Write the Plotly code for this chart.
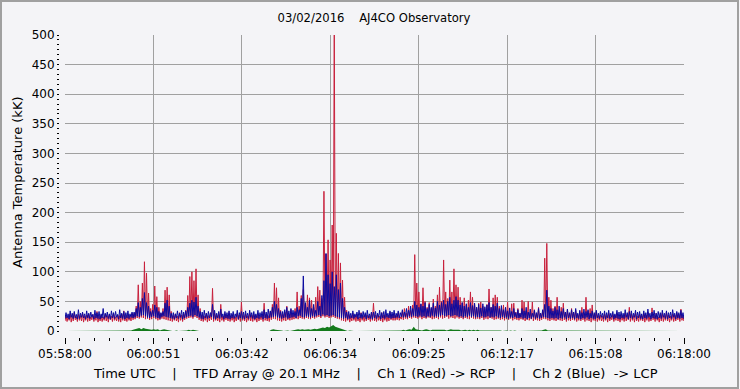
import plotly.graph_objects as go

# ---------------- data ----------------
sample_step_s = 4  # seconds between samples, starting 05:58:00

tick_labels = ["05:58:00", "06:00:51", "06:03:42", "06:06:34",
               "06:09:25", "06:12:17", "06:15:08", "06:18:00"]

# Ch 1 (RCP) upper envelope per sample, kK
ch1_red_high = [
    27,25,29,26,31,24,28,26,30,25,
    27,29,24,28,26,33,25,27,24,29,
    26,28,25,30,24,27,26,29,34,25,
    28,24,30,
    30,42,78,50,81,117,98,64,38,
    45,76,58,40,30,
    38,69,74,61,33,
    26,29,25,31,27,28,
    35,60,92,100,85,105,61,38,
    27,25,30,26,28,
    72,
    30,26,28,45,25,29,27,31,26,28,24,30,27,
    49,
    26,29,25,31,27,28,26,30,25,29,
    47,
    28,26,33,
    45,81,73,56,35,
    28,32,42,28,36,30,
    38,66,42,60,70,45,61,56,52,40,57,75,69,55,236,130,154,120,179,520,165,131,115,86,57,35,
    28,25,30,27,29,24,31,26,28,27,25,30,
    47,
    27,29,25,31,27,28,26,32,28,30,
    26,31,24,33,38,30,42,35,44,129,
    81,66,45,73,50,40,48,38,54,42,
    61,74,50,120,66,55,86,66,105,78,
    74,57,48,56,44,52,66,57,45,40,
    47,49,42,38,45,71,40,56,61,57,
    42,38,44,35,49,33,46,47,32,38,
    30,52,49,34,50,31,49,36,28,40,
    30,
    34,123,148,57,52,38,42,57,35,40,
    47,32,36,29,38,31,35,28,33,40,
    30,57,34,38,44,28,32,26,
    27,25,29,26,30,24,28,27,31,25,
    28,26,30,27,40,29,26,31,25,28,
    26,30,27,32,25,39,27,30,24,28,
    30,26,32,27,25,29,27,31,28,37,
    26,29,
]

# Ch 1 (RCP) lower envelope per sample, kK
ch1_red_low = [
    17,16,18,15,17,19,16,18,17,15,
    18,16,17,19,16,18,15,17,16,18,
    17,15,19,16,18,17,16,15,18,17,
    16,18,17,19,20,22,21,23,22,20,
    21,19,20,22,20,18,19,21,20,19,
    18,17,16,18,17,15,18,16,19,21,
    22,23,21,24,22,19,17,16,18,15,
    17,19,16,18,17,15,18,16,19,17,
    16,18,15,17,19,16,18,17,15,18,
    17,16,18,15,17,19,16,18,17,16,
    19,21,20,18,17,16,18,17,19,18,
    19,20,21,20,22,21,20,22,21,20,
    22,21,23,24,22,25,23,24,22,23,
    24,22,21,20,18,17,16,18,15,17,
    18,16,17,15,18,16,17,19,16,18,
    17,16,18,17,15,18,16,17,19,18,
    18,19,18,20,19,21,20,22,21,23,
    22,21,23,20,22,21,23,22,20,21,
    22,20,23,21,22,24,21,23,22,21,
    23,21,22,20,22,21,20,22,21,20,
    21,20,22,19,21,20,22,21,19,20,
    21,19,20,18,20,19,21,18,20,19,
    18,20,19,17,19,18,20,17,19,18,
    17,19,21,20,18,17,19,18,17,19,
    18,17,19,16,18,17,19,18,16,18,
    17,19,16,18,17,15,18,17,16,18,
    17,16,18,15,17,19,16,18,17,15,
    18,16,17,19,16,18,15,17,16,18,
    17,15,18,16,17,19,16,18,15,17,
    16,18,17,15,18,16,17,19,16,18,
    17,
]

# Ch 2 (LCP) upper envelope per sample, kK
ch2_blue_high = [
    31,29,34,30,33,28,36,30,32,29,
    34,30,32,28,35,31,33,29,38,30,
    32,29,34,31,33,28,36,30,33,31,
    34,29,32,
    32,38,48,40,55,65,48,42,33,
    35,44,40,33,31,
    33,47,52,42,30,
    31,29,34,30,35,32,
    34,40,47,52,49,57,42,33,
    32,35,30,33,31,
    45,
    35,30,33,37,29,33,31,34,30,33,29,35,31,
    33,
    32,34,30,35,31,33,29,35,31,33,
    36,
    32,37,34,
    40,50,45,38,33,
    33,36,40,34,38,35,
    33,40,36,55,93,48,40,52,38,45,35,50,42,60,85,131,95,80,100,75,95,70,81,55,40,32,
    33,30,34,29,32,35,30,33,31,35,29,32,
    32,
    33,30,35,31,33,36,30,34,32,35,
    30,34,31,36,32,38,35,42,38,50,
    44,40,46,42,48,38,45,40,47,39,
    50,44,48,52,45,50,57,46,52,58,
    52,44,48,42,46,40,48,43,47,40,
    45,39,46,41,44,48,40,45,42,47,
    38,43,36,40,34,39,33,38,31,36,
    30,38,34,40,32,37,30,35,31,38,
    30,
    36,45,69,42,38,34,40,36,42,33,
    38,32,37,31,36,32,38,30,35,31,
    37,33,36,30,34,31,35,30,
    33,30,34,31,35,30,33,29,35,32,
    33,30,36,31,33,34,30,35,32,33,
    29,34,31,37,30,32,35,30,33,31,
    35,30,34,31,32,36,30,33,31,35,
    31,33,
]

# Ch 2 (LCP) lower envelope per sample, kK
ch2_blue_low = [
    21,22,20,23,21,22,20,21,23,22,
    20,22,21,23,20,22,21,20,22,21,
    23,21,20,22,21,23,20,22,21,20,
    22,21,23,22,23,25,24,26,27,25,
    23,22,24,25,23,22,21,24,25,24,
    23,22,21,20,22,21,23,20,22,24,
    25,26,24,27,25,23,21,20,22,21,
    22,24,21,20,22,21,23,20,22,21,
    20,22,21,23,20,22,21,20,22,21,
    23,21,20,22,21,23,20,22,21,22,
    23,24,25,23,22,21,22,23,21,22,
    23,24,22,25,26,24,23,25,24,23,
    25,24,26,27,25,28,26,27,25,26,
    27,25,24,23,22,21,22,20,21,22,
    21,23,20,22,21,23,20,22,21,20,
    22,21,23,20,22,21,23,22,21,22,
    22,23,22,24,23,24,23,25,24,26,
    25,24,26,24,25,23,25,24,26,24,
    25,24,26,27,25,26,27,25,26,27,
    26,24,25,23,25,24,26,24,25,23,
    24,23,25,23,24,25,23,24,23,25,
    23,22,24,22,23,21,23,22,24,22,
    22,23,21,22,20,22,21,23,21,22,
    21,22,24,23,22,21,22,21,22,20,
    22,21,23,20,22,21,22,20,22,21,
    20,22,21,23,20,22,21,20,22,21,
    23,21,20,22,21,23,20,22,21,20,
    22,21,23,20,22,21,23,20,22,21,
    20,22,21,23,20,22,21,20,22,21,
    23,21,20,22,21,23,20,22,21,22,
    21,
]

# third (green) channel near the floor, kK
diff_green = [
    0,0,1,0,0,0,0,1,0,0,
    0,0,0,1,0,0,0,0,1,0,
    0,0,0,0,1,0,0,0,0,1,
    0,0,1,
    2,3,4,5,3,5,4,3,2,
    2,3,2,3,1,2,3,2,1,1,
    0,0,1,0,0,0,
    1,1,2,1,2,1,1,0,
    0,0,0,0,0,
    1,
    0,0,1,0,0,0,0,1,0,0,0,0,0,
    1,
    0,0,1,0,0,0,1,0,0,0,
    1,
    0,1,0,
    2,3,2,2,1,
    1,0,1,1,0,1,
    2,2,3,2,3,2,3,3,2,3,4,3,4,5,6,5,7,6,8,10,7,6,4,3,2,1,
    0,1,0,0,0,0,1,0,0,0,0,0,
    0,
    0,0,0,1,0,0,0,0,1,0,
    1,0,1,1,2,1,2,3,2,7,
    3,2,2,1,2,3,2,1,2,2,
    3,2,2,3,2,1,2,3,2,2,
    3,2,1,2,2,1,2,1,2,1,
    2,1,1,2,1,2,1,1,2,1,
    1,1,0,1,1,0,1,0,1,0,
    0,1,0,1,0,1,1,0,0,1,
    0,
    1,2,3,1,1,0,1,0,1,0,
    0,1,0,0,1,0,1,0,0,1,
    0,0,1,0,0,1,0,0,
    0,0,1,0,0,0,0,0,1,0,
    0,0,0,0,1,0,0,0,0,0,
    1,0,0,0,0,1,0,0,0,0,
    0,0,0,1,0,0,0,0,0,1,
    0,0,
]

n = len(ch1_red_high)
t_sec = [sample_step_s * i for i in range(n)]
span_s = 1200
tick_vals = [k * span_s / 7 for k in range(len(tick_labels))]


def envelope_trace(low, high):
    """Dense signal drawn as low/high per sample (min/max decimation)."""
    xs, ys = [], []
    half = sample_step_s / 2
    for t, lo, hi in zip(t_sec, low, high):
        xs += [t, t + half]
        ys += [lo, hi]
    return xs, ys


rx, ry = envelope_trace(ch1_red_low, ch1_red_high)
bx, by = envelope_trace(ch2_blue_low, ch2_blue_high)

# ---------------- figure ----------------
W, H = 740, 389
ML, MR, MT, MB = 59, 56, 35, 52
BG = "#F4F4F7"
GRID = "#A0A0A0"
FONT = "DejaVu Sans"

fig = go.Figure()
fig.add_trace(go.Scatter(x=t_sec, y=diff_green, mode="lines",
                         line=dict(width=0, color="#137A1B"),
                         fill="tozeroy", fillcolor="#137A1B",
                         hoverinfo="skip", showlegend=False))
fig.add_trace(go.Scatter(x=rx, y=ry, mode="lines",
                         line=dict(width=1, color="#C8203C"),
                         showlegend=False))
fig.add_trace(go.Scatter(x=bx, y=by, mode="lines",
                         line=dict(width=1, color="#0A0AA0"),
                         showlegend=False))

pw = W - ML - MR
ph = H - MT - MB

fig.update_layout(
    width=W, height=H,
    margin=dict(l=ML, r=MR, t=MT, b=MB, pad=0),
    paper_bgcolor=BG, plot_bgcolor=BG,
    font=dict(family=FONT, size=12, color="#000000"),
    title=dict(text="03/02/2016\u00a0\u00a0\u00a0\u00a0AJ4CO Observatory",
               x=(374 - ML) / pw, xref="paper", xanchor="center",
               y=1 - 18 / H, yref="container", yanchor="middle",
               font=dict(family=FONT, size=11.6, color="#000000")),
    xaxis=dict(range=[0, span_s], domain=[6 / pw, 1],
               anchor="free", position=0, automargin=False,
               tickmode="array", tickvals=tick_vals, ticktext=tick_labels,
               ticks="outside", ticklen=6, tickcolor="#000000", tickwidth=1,
               minor=dict(dtick=span_s / 42, tick0=0, ticks="outside",
                          ticklen=3, tickcolor="#000000", showgrid=False),
               showgrid=True, gridcolor=GRID, gridwidth=1,
               zeroline=False, showline=False,
               tickfont=dict(family=FONT, size=12)),
    yaxis=dict(range=[0, 500], domain=[6 / ph, 1],
               anchor="free", position=0, automargin=False,
               dtick=50, tick0=0,
               ticks="outside", ticklen=2, tickcolor="#000000", tickwidth=1,
               minor=dict(dtick=50 / 6, tick0=0, ticks="outside",
                          ticklen=2, tickcolor="#000000", showgrid=False),
               showgrid=True, gridcolor=GRID, gridwidth=1,
               zeroline=False, showline=False,
               tickfont=dict(family=FONT, size=12)),
    annotations=[
        dict(text="Time UTC\u00a0\u00a0\u00a0\u00a0|\u00a0\u00a0\u00a0\u00a0TFD Array @ 20.1 MHz"
                  "\u00a0\u00a0\u00a0\u00a0|\u00a0\u00a0\u00a0\u00a0Ch 1 (Red) -> RCP"
                  "\u00a0\u00a0\u00a0\u00a0|\u00a0\u00a0\u00a0\u00a0Ch 2 (Blue)\u00a0\u00a0-> LCP",
             xref="paper", yref="paper",
             x=(375 - ML) / pw, y=(H - MB - 373) / ph,
             xanchor="center", yanchor="middle", showarrow=False,
             font=dict(family=FONT, size=13)),
        dict(text="Antenna Temperature (kK)", textangle=-90,
             xref="paper", yref="paper",
             x=(18 - ML) / pw, y=(H - MB - 183) / ph,
             xanchor="center", yanchor="middle", showarrow=False,
             font=dict(family=FONT, size=13)),
    ],
    shapes=[dict(type="rect", xref="paper", yref="paper",
                 x0=(1 - ML) / pw, x1=(738 - ML) / pw,
                 y0=(H - MB - 388) / ph, y1=(H - MB - 1) / ph,
                 line=dict(color="#A0A0A0", width=2), layer="below")],
)

fig.write_html(
    "out.html",
    config={"displayModeBar": False},
    post_script="document.body.style.margin='0px';"
                "document.body.style.overflow='hidden';",
)
